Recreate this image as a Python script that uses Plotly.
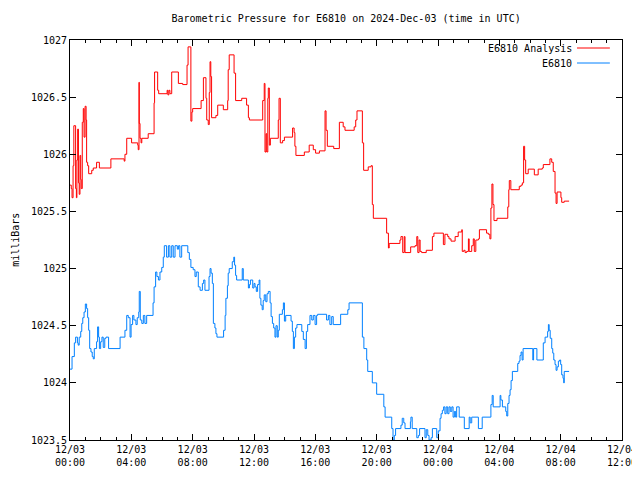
import pandas as pd
import plotly.graph_objects as go

BASE = pd.Timestamp("2024-12-03 00:00")

# E6810 Analysis (red): minutes after 2024-12-03 00:00 UTC, pressure (mb)
analysis_min = [0, 5, 8, 12, 15, 22, 25, 27, 30, 33, 36, 39, 42, 44, 48, 52, 55, 59, 63, 65, 69, 73, 85, 91, 104, 115, 160, 212, 215, 222,
                241, 265, 267, 270, 271, 274, 278, 281, 306, 329, 331, 343, 347, 380, 383, 387, 391, 398, 424, 441, 458, 462, 473, 477, 480,
                513, 522, 532, 535, 541, 545, 548, 551, 554, 571, 578, 600, 617, 619, 623, 642, 648, 672, 691, 698, 702, 754, 760, 763, 767,
                770, 774, 776, 780, 784, 815, 818, 823, 832, 839, 871, 877, 880, 884, 917, 936, 952, 961, 976, 998, 1002, 1007, 1032, 1054,
                1069, 1076, 1112, 1118, 1123, 1144, 1149, 1167, 1178, 1183, 1187, 1239, 1246, 1249, 1291, 1295, 1302, 1308, 1311, 1333, 1350,
                1357, 1361, 1366, 1370, 1376, 1394, 1418, 1424, 1461, 1467, 1478, 1483, 1491, 1507, 1519, 1533, 1535, 1541, 1546, 1552, 1559,
                1562, 1572, 1578, 1582, 1588, 1598, 1602, 1630, 1637, 1643, 1647, 1651, 1655, 1659, 1671, 1713, 1717, 1719, 1725, 1758, 1765,
                1770, 1775, 1779, 1783, 1793, 1817, 1832, 1848, 1852, 1878, 1885, 1891, 1898, 1902, 1906, 1921, 1924, 1934, 1953]
analysis_mb = [1025.73, 1025.70, 1025.62, 1025.90, 1026.25, 1025.70, 1025.62, 1025.95, 1026.22, 1025.75, 1025.65, 1025.99, 1025.78, 1025.70,
               1026.28, 1026.40, 1026.15, 1026.42, 1026.30, 1025.93, 1025.90, 1025.83, 1025.86, 1025.88, 1025.93, 1025.88, 1025.96, 1025.94,
               1026.00, 1026.14, 1026.10, 1026.08, 1026.04, 1026.63, 1026.27, 1026.14, 1026.10, 1026.14, 1026.18, 1026.45, 1026.72, 1026.56,
               1026.53, 1026.56, 1026.52, 1026.56, 1026.53, 1026.72, 1026.62, 1026.61, 1026.78, 1026.94, 1026.29, 1026.37, 1026.40,
               1026.47, 1026.67, 1026.49, 1026.30, 1026.26, 1026.54, 1026.81, 1026.68, 1026.32, 1026.34, 1026.43, 1026.39, 1026.47, 1026.74,
               1026.87, 1026.71, 1026.47, 1026.49, 1026.43, 1026.32, 1026.30, 1026.47, 1026.62, 1026.02, 1026.18, 1026.02, 1026.49, 1026.58,
               1026.08, 1026.14, 1026.30, 1026.49, 1026.10, 1026.12, 1026.15, 1026.23, 1026.19, 1026.07, 1025.99, 1026.02, 1026.08, 1026.04,
               1026.01, 1026.03, 1026.38, 1026.21, 1026.07, 1026.05, 1026.28, 1026.24, 1026.21, 1026.24, 1026.30, 1026.38, 1026.10, 1025.86,
               1025.89, 1025.90, 1025.56, 1025.44, 1025.31, 1025.18, 1025.22, 1025.25, 1025.28, 1025.14, 1025.28, 1025.14, 1025.19, 1025.20,
               1025.28, 1025.14, 1025.25, 1025.15, 1025.14, 1025.16, 1025.28, 1025.31, 1025.21, 1025.30, 1025.28, 1025.26, 1025.24, 1025.28,
               1025.32, 1025.34, 1025.15, 1025.16, 1025.14, 1025.15, 1025.26, 1025.15, 1025.20, 1025.26, 1025.15, 1025.25, 1025.26, 1025.34,
               1025.31, 1025.30, 1025.26, 1025.53, 1025.74, 1025.56, 1025.42, 1025.44, 1025.54, 1025.69, 1025.77, 1025.69, 1025.72, 1025.73,
               1025.75, 1026.07, 1025.95, 1025.83, 1025.87, 1025.82, 1025.87, 1025.88, 1025.91, 1025.96, 1025.93, 1025.85, 1025.66, 1025.57,
               1025.67, 1025.62, 1025.58, 1025.59, 1025.59]

# E6810 observations (blue)
obs_min = [0, 8, 17, 22, 29, 32, 36, 42, 46, 50, 55, 60, 65, 69, 73, 77, 82, 87, 91, 95, 104, 108, 112, 115, 120, 125, 130, 136, 141, 151,
           196, 215, 222, 228, 235, 239, 245, 250, 258, 263, 269, 271, 275, 281, 287, 293, 300, 325, 329, 335, 340, 346, 352, 359, 365,
           369, 378, 385, 391, 398, 404, 411, 420, 425, 430, 437, 461, 467, 473, 482, 489, 494, 502, 509, 518, 523, 528, 544, 548, 552,
           557, 561, 567, 571, 575, 601, 607, 610, 616, 619, 623, 635, 641, 644, 648, 652, 674, 678, 698, 702, 706, 715, 720, 724, 729,
           734, 740, 743, 747, 752, 756, 760, 766, 771, 776, 783, 787, 792, 797, 802, 806, 811, 815, 819, 831, 835, 839, 844, 865, 870,
           874, 878, 883, 888, 907, 913, 920, 925, 930, 939, 946, 952, 959, 965, 969, 1004, 1011, 1017, 1024, 1030, 1059, 1087, 1092,
           1144, 1150, 1161, 1165, 1183, 1200, 1228, 1233, 1259, 1264, 1267, 1269, 1274, 1295, 1300, 1306, 1311, 1332, 1334, 1339, 1357,
           1363, 1368, 1389, 1394, 1400, 1405, 1413, 1418, 1435, 1441, 1448, 1452, 1457, 1462, 1467, 1472, 1478, 1483, 1488, 1494, 1499,
           1504, 1509, 1513, 1523, 1543, 1562, 1566, 1572, 1598, 1613, 1647, 1652, 1656, 1683, 1686, 1692, 1705, 1709, 1713, 1718, 1722,
           1726, 1731, 1752, 1757, 1761, 1765, 1769, 1773, 1811, 1814, 1827, 1852, 1859, 1869, 1872, 1875, 1879, 1885, 1889, 1893, 1898,
           1902, 1906, 1911, 1916, 1920, 1924, 1929, 1932, 1934, 1953]
obs_mb = [1024.12, 1024.23, 1024.35, 1024.40, 1024.35, 1024.33, 1024.40, 1024.45, 1024.52, 1024.57, 1024.62, 1024.69, 1024.65, 1024.57,
          1024.46, 1024.30, 1024.27, 1024.23, 1024.21, 1024.30, 1024.36, 1024.49, 1024.40, 1024.30, 1024.36, 1024.40, 1024.31, 1024.39,
          1024.40, 1024.30, 1024.40, 1024.46, 1024.59, 1024.57, 1024.40, 1024.51, 1024.59, 1024.55, 1024.51, 1024.57, 1024.62, 1024.80,
          1024.55, 1024.52, 1024.59, 1024.52, 1024.59, 1024.70, 1024.84, 1024.97, 1024.93, 1024.90, 1024.97, 1025.01, 1025.10, 1025.20,
          1025.10, 1025.20, 1025.10, 1025.20, 1025.10, 1025.20, 1025.17, 1025.20, 1025.10, 1025.20, 1025.14, 1025.08, 1025.01, 1024.99,
          1024.93, 1024.97, 1024.84, 1024.81, 1024.87, 1024.90, 1024.81, 1024.93, 1025.00, 1024.96, 1024.87, 1024.52, 1024.48, 1024.43,
          1024.40, 1024.46, 1024.59, 1024.74, 1024.85, 1024.96, 1025.00, 1025.06, 1025.10, 1025.03, 1024.94, 1024.90, 1025.00, 1024.90,
          1024.83, 1024.86, 1024.90, 1024.83, 1024.87, 1024.84, 1024.80, 1024.86, 1024.90, 1024.74, 1024.68, 1024.64, 1024.72, 1024.77,
          1024.71, 1024.78, 1024.80, 1024.70, 1024.58, 1024.52, 1024.48, 1024.40, 1024.50, 1024.40, 1024.46, 1024.60, 1024.64, 1024.70,
          1024.54, 1024.59, 1024.54, 1024.45, 1024.30, 1024.40, 1024.48, 1024.51, 1024.45, 1024.38, 1024.30, 1024.45, 1024.51, 1024.59,
          1024.55, 1024.59, 1024.51, 1024.59, 1024.60, 1024.55, 1024.59, 1024.51, 1024.58, 1024.51, 1024.60, 1024.64, 1024.70, 1024.40,
          1024.30, 1024.20, 1024.10, 1024.00, 1023.90, 1023.79, 1023.70, 1023.60, 1023.50, 1023.48, 1023.54, 1023.60, 1023.63, 1023.69,
          1023.65, 1023.60, 1023.66, 1023.70, 1023.60, 1023.52, 1023.54, 1023.60, 1023.52, 1023.59, 1023.54, 1023.50, 1023.52, 1023.60,
          1023.52, 1023.58, 1023.69, 1023.73, 1023.76, 1023.79, 1023.73, 1023.79, 1023.73, 1023.79, 1023.75, 1023.79, 1023.70, 1023.75,
          1023.70, 1023.79, 1023.70, 1023.60, 1023.70, 1023.65, 1023.70, 1023.60, 1023.70, 1023.81, 1023.89, 1023.79, 1023.89, 1023.85,
          1023.79, 1023.75, 1023.71, 1023.82, 1023.89, 1023.94, 1024.02, 1024.10, 1024.17, 1024.19, 1024.24, 1024.27, 1024.20, 1024.30,
          1024.20, 1024.30, 1024.20, 1024.35, 1024.40, 1024.45, 1024.51, 1024.46, 1024.39, 1024.30, 1024.26, 1024.20, 1024.16, 1024.11,
          1024.14, 1024.19, 1024.20, 1024.16, 1024.07, 1024.04, 1024.00, 1024.10, 1024.10]

x_tick_hours = [0, 4, 8, 12, 16, 20, 24, 28, 32, 36]
x_tick_labels = ["12/03<br>00:00", "12/03<br>04:00", "12/03<br>08:00", "12/03<br>12:00", "12/03<br>16:00",
                 "12/03<br>20:00", "12/04<br>00:00", "12/04<br>04:00", "12/04<br>08:00", "12/04<br>12:00"]
y_tick_vals = [1023.5, 1024, 1024.5, 1025, 1025.5, 1026, 1026.5, 1027]
y_tick_labels = ["1023.5", "1024", "1024.5", "1025", "1025.5", "1026", "1026.5", "1027"]

series_names = ["E6810 Analysis", "E6810"]
series_colors = ["#ff0000", "#0080ff"]

FONT = "DejaVu Sans Mono"

def to_time(mins):
    return BASE + pd.to_timedelta(pd.Series(mins), unit="m")

fig = go.Figure()
fig.add_trace(go.Scatter(x=to_time(analysis_min), y=analysis_mb, mode="lines", line_shape="hv",
                         line=dict(color=series_colors[0], width=1), name=series_names[0], showlegend=False))
fig.add_trace(go.Scatter(x=to_time(obs_min), y=obs_mb, mode="lines", line_shape="hv",
                         line=dict(color=series_colors[1], width=1), name=series_names[1], showlegend=False))

tickvals_x = [BASE + pd.Timedelta(hours=h) for h in x_tick_hours]

fig.update_layout(
    template="none",
    width=632, height=472,
    margin=dict(l=62, r=18, t=32, b=40, pad=0),
    paper_bgcolor="white", plot_bgcolor="white",
    font=dict(family=FONT, size=10, color="black"),
    title=dict(text="Barometric Pressure for E6810 on 2024-Dec-03 (time in UTC)", x=0.535, xanchor="center",
               y=0.977, yanchor="middle", font=dict(family=FONT, size=10, color="black")),
    xaxis=dict(range=[tickvals_x[0], tickvals_x[-1]], tickvals=tickvals_x, ticktext=x_tick_labels, automargin=False,
               ticks="inside", ticklen=6, tickcolor="black", showline=True, linecolor="black", linewidth=1,
               mirror="allticks", showgrid=False, zeroline=False,
               minor=dict(dtick=3600000, tick0=BASE, ticks="inside", ticklen=3, tickcolor="black", showgrid=False),
               tickfont=dict(family=FONT, size=10, color="black")),
    yaxis=dict(range=[1023.5, 1027], tickvals=y_tick_vals, ticktext=y_tick_labels, automargin=False,
               ticks="inside", ticklen=6, tickcolor="black", showline=True, linecolor="black", linewidth=1,
               mirror="allticks", showgrid=False, zeroline=False,
               tickfont=dict(family=FONT, size=10, color="black")),
)

fig.add_annotation(text="milliBars", xref="paper", yref="paper", x=-0.1, y=0.5, textangle=-90,
                   showarrow=False, xanchor="center", yanchor="middle", font=dict(family=FONT, size=10, color="black"))

legend_y = [0.98, 0.9425]
for name, color, ly in zip(series_names, series_colors, legend_y):
    fig.add_annotation(text=name, xref="paper", yref="paper", x=0.913, y=ly, xanchor="right", yanchor="middle",
                       showarrow=False, font=dict(family=FONT, size=10, color="black"))
    fig.add_shape(type="line", xref="paper", yref="paper", x0=0.9185, x1=0.978, y0=ly, y1=ly,
                  line=dict(color=color, width=1))

fig.write_html("out.html")
